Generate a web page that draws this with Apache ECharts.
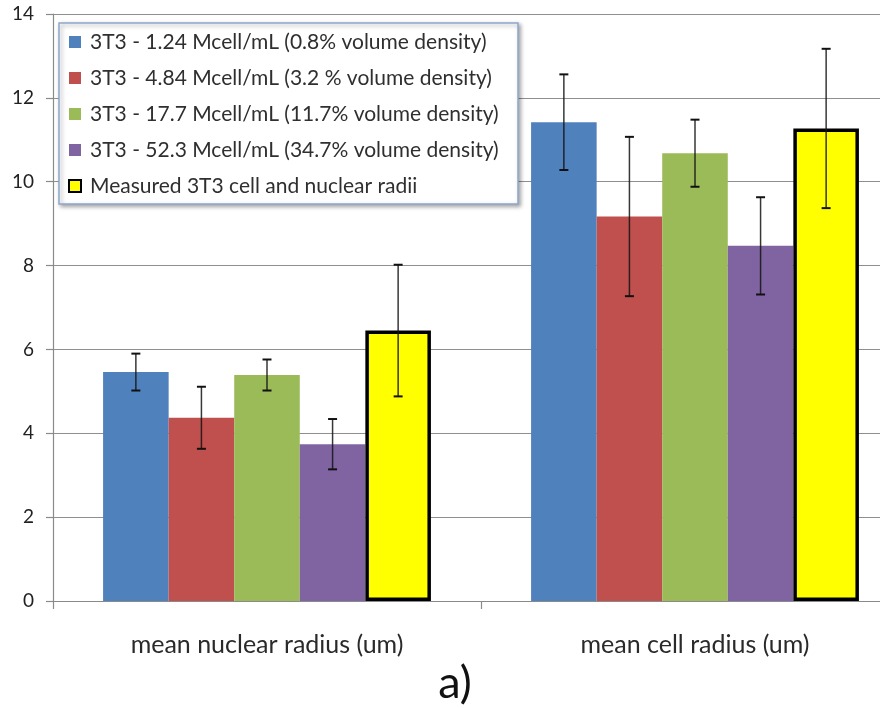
<!DOCTYPE html>
<html>
<head>
<meta charset="utf-8">
<script src="https://cdn.jsdelivr.net/npm/echarts@6/dist/echarts.min.js"></script>
<style>
  html, body { margin: 0; padding: 0; background: #fff; }
  #chart { width: 880px; height: 708px; }
</style>
</head>
<body>
<div id="chart"></div>
<script>
// Groups on the horizontal axis
var categories = ['mean nuclear radius (um)', 'mean cell radius (um)'];

// Series names (legend order)
var seriesNames = [
  '3T3 - 1.24 Mcell/mL (0.8% volume density)',
  '3T3 - 4.84 Mcell/mL (3.2 % volume density)',
  '3T3 - 17.7 Mcell/mL (11.7% volume density)',
  '3T3 - 52.3 Mcell/mL (34.7% volume density)',
  'Measured 3T3 cell and nuclear radii'
];

// Mean values per series: [nuclear, cell]
var density124 = [5.46, 11.42];
var density484 = [4.37, 9.17];
var density177 = [5.39, 10.68];
var density523 = [3.74, 8.47];
var measured   = [6.45, 11.27];

// Error bar half-widths (standard deviation) per series: [nuclear, cell]
var density124Err = [0.44, 1.14];
var density484Err = [0.74, 1.90];
var density177Err = [0.37, 0.80];
var density523Err = [0.60, 1.16];
var measuredErr   = [1.57, 1.90];

// Y axis ticks
var yMin = 0, yMax = 14, yStep = 2;

var FONT = 'Lato';
var colors = ['#4F81BD', '#C0504D', '#9BBB59', '#8064A2', '#FFFF00'];
var values = [density124, density484, density177, density523, measured];
var errors = [density124Err, density484Err, density177Err, density523Err, measuredErr];
var CAT_GAP = 0.234;

var chart = echarts.init(document.getElementById('chart'));

var barSeries = values.map(function (vals, i) {
  var s = {
    name: seriesNames[i],
    type: 'bar',
    data: vals,
    barGap: '0%',
    barCategoryGap: (CAT_GAP * 100) + '%',
    itemStyle: { color: colors[i] },
    z: 2
  };
  if (i === 4) {
    s.itemStyle = { color: colors[i], borderColor: '#000', borderWidth: 3.5 };
  }
  return s;
});

// Error bar records: [categoryIndex, seriesIndex, low, high]
var errData = [];
values.forEach(function (vals, si) {
  vals.forEach(function (v, ci) {
    errData.push([ci, si, v - errors[si][ci], v + errors[si][ci]]);
  });
});

var errorSeries = {
  type: 'custom',
  name: 'error',
  data: errData,
  z: 5,
  silent: true,
  encode: { x: 0, y: [2, 3] },
  renderItem: function (params, api) {
    var ci = api.value(0), si = api.value(1);
    var band = api.size([1, 0])[0];
    var groupW = band * (1 - CAT_GAP);
    var barW = groupW / 5;
    var center = api.coord([ci, 0])[0];
    var x = center - groupW / 2 + (si + 0.5) * barW;
    var yLo = api.coord([ci, api.value(2)])[1];
    var yHi = api.coord([ci, api.value(3)])[1];
    var cap = 4.5;
    var st = { stroke: 'rgba(20,20,20,0.85)', lineWidth: 1.5 };
    return {
      type: 'group',
      children: [
        { type: 'line', shape: { x1: x, y1: yLo, x2: x, y2: yHi }, style: st },
        { type: 'line', shape: { x1: x - cap, y1: yHi, x2: x + cap, y2: yHi }, style: { stroke: '#111', lineWidth: 2 } },
        { type: 'line', shape: { x1: x - cap, y1: yLo, x2: x + cap, y2: yLo }, style: { stroke: '#111', lineWidth: 2 } }
      ]
    };
  }
};

var option = {
  backgroundColor: '#fff',
  animation: false,
  // plot area runs past the right edge of the canvas
  grid: { left: 53, top: 14, width: 856, bottom: 107, containLabel: false, outerBoundsMode: 'none' },
  legend: {
    orient: 'vertical',
    left: 68,
    top: 30,
    padding: 0,
    itemWidth: 12,
    itemHeight: 12,
    itemGap: 12,
    icon: 'rect',
    z: 20,
    selectedMode: false,
    data: seriesNames.map(function (n, i) {
      var d = { name: n };
      if (i === 4) d.itemStyle = { color: '#FFFF00', borderColor: '#000', borderWidth: 2 };
      return d;
    }),
    textStyle: {
      fontFamily: FONT, fontSize: 21, color: '#2f2f2f',
      lineHeight: 24, padding: [0, 0, 0, 4]
    }
  },
  xAxis: {
    type: 'category',
    data: categories,
    axisLine: { show: true, lineStyle: { color: '#8a8a8a', width: 1.2 } },
    axisTick: { show: true, length: 8, lineStyle: { color: '#8a8a8a', width: 1.2 } },
    axisLabel: { fontFamily: FONT, fontSize: 25, color: '#2a2a2a', margin: 31 },
    splitLine: { show: false }
  },
  yAxis: {
    type: 'value',
    min: yMin, max: yMax, interval: yStep,
    axisLine: { show: true, lineStyle: { color: '#8a8a8a', width: 1.2 } },
    axisTick: { show: true, length: 7, lineStyle: { color: '#8a8a8a', width: 1.2 } },
    axisLabel: { fontFamily: FONT, fontSize: 19, color: '#222', margin: 19 },
    splitLine: { show: true, lineStyle: { color: '#8f8f8f', width: 1.2 } }
  },
  graphic: [
    {
      type: 'rect',
      z: 10,
      shape: { x: 59, y: 23, width: 459, height: 181 },
      style: {
        fill: '#fff', stroke: '#8DA8CE', lineWidth: 1.5,
        shadowBlur: 4, shadowOffsetX: 2, shadowOffsetY: 2, shadowColor: 'rgba(0,0,0,0.35)'
      }
    },
    {
      type: 'text',
      z: 10,
      x: 455, y: 683,
      style: {
        text: 'a)', fontFamily: FONT, fontSize: 45, fill: '#111',
        textAlign: 'center', textVerticalAlign: 'middle'
      }
    }
  ],
  series: barSeries.concat([errorSeries])
};

chart.setOption(option);
</script>
</body>
</html>
